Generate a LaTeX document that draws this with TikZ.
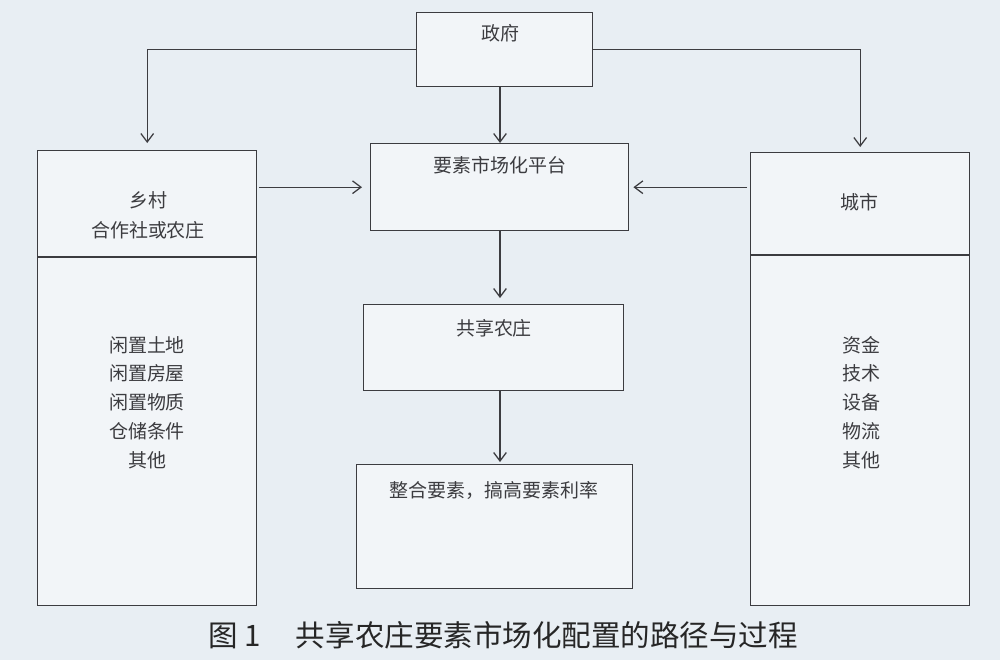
\documentclass[tikz,border=0pt]{standalone}
\usepackage{fontspec}
\setmainfont{Noto Sans CJK SC}
\usetikzlibrary{arrows.meta}
\definecolor{paper}{RGB}{232,238,243}
\definecolor{boxin}{RGB}{242,245,248}
\definecolor{ink}{RGB}{60,60,64}
\newcommand*{\pxu}{0.025cm}
\tikzstyle{box} = [style={draw=ink, line width=1pt, fill=boxin, inner sep=0, anchor=north west}]
\tikzstyle{txt} = [style={text=ink, font=\fontsize{13.5}{16}\selectfont, inner sep=1pt}]
\tikzstyle{arr} = [style={draw=ink, line width=0.9pt, -{Straight Barb[length=6pt,width=9pt]}}]

\begin{document}
\begin{tikzpicture}[x=\pxu, y=-\pxu]
\useasboundingbox[fill=paper] (0,0) rectangle (1000,660);

%% boxes
\node [box, minimum width=176*\pxu, minimum height=74*\pxu]  (gov)   at (416,12)  {};
\node [box, minimum width=258*\pxu, minimum height=87*\pxu]  (plat)  at (370,143) {};
\node [box, minimum width=219*\pxu, minimum height=455*\pxu] (rural) at (37,150)  {};
\node [box, minimum width=219*\pxu, minimum height=453*\pxu] (city)  at (750,152) {};
\node [box, minimum width=260*\pxu, minimum height=86*\pxu]  (farm)  at (363,304) {};
\node [box, minimum width=276*\pxu, minimum height=124*\pxu] (goal)  at (356,464) {};

%% dividers
\draw [ink, line width=1pt] (rural.west |- 0,257) -- (rural.east |- 0,257);
\draw [ink, line width=1pt] (city.west |- 0,255) -- (city.east |- 0,255);

%% labels
\node [txt] (tgov)   at (500,33)  {政府};
\node [txt] (tplat)  at (500,165) {要素市场化平台};
\node [txt] (tfarm)  at (494,328) {共享农庄};
\node [txt] (tgoal)  at (494,490) {整合要素，搞高要素利率};
\node [txt] (trural) at (148,200) {乡村};
\node [txt] (tcoop)  at (148,230) {合作社或农庄};
\node [txt] (tcity)  at (859,202) {城市};

\foreach \t [count=\i] in {闲置土地,闲置房屋,闲置物质,仓储条件,其他}
  {\node [txt] (r\i) at (147,316+\i*28.8) {\t};}
\foreach \t [count=\i] in {资金,技术,设备,物流,其他}
  {\node [txt] (c\i) at (861,316+\i*28.8) {\t};}

%% arrows
\draw [arr, shorten >=7*\pxu] (gov.west) -| (rural.north);
\draw [arr, shorten >=5*\pxu] (gov.east) -| (city.north);
\draw [arr] (gov.south -| tgov) -- (plat.north -| tgov);
\draw [arr, shorten <=2*\pxu, shorten >=8*\pxu] (rural.east |- plat.west) -- (plat.west);
\draw [arr, shorten <=3*\pxu, shorten >=4*\pxu] (city.west |- plat.east) -- (plat.east);
\draw [arr, shorten >=6*\pxu] (plat.south -| tgov) -- (farm.north -| tgov);
\draw [arr, shorten >=2*\pxu] (farm.south -| tgov) -- (goal.north -| tgov);

%% caption
\node [text=black!85, font=\fontsize{21}{25}\selectfont] (cap) at (503,635)
  {图 1\hspace{1.2em}共享农庄要素市场化配置的路径与过程};

\end{tikzpicture}
\end{document}
